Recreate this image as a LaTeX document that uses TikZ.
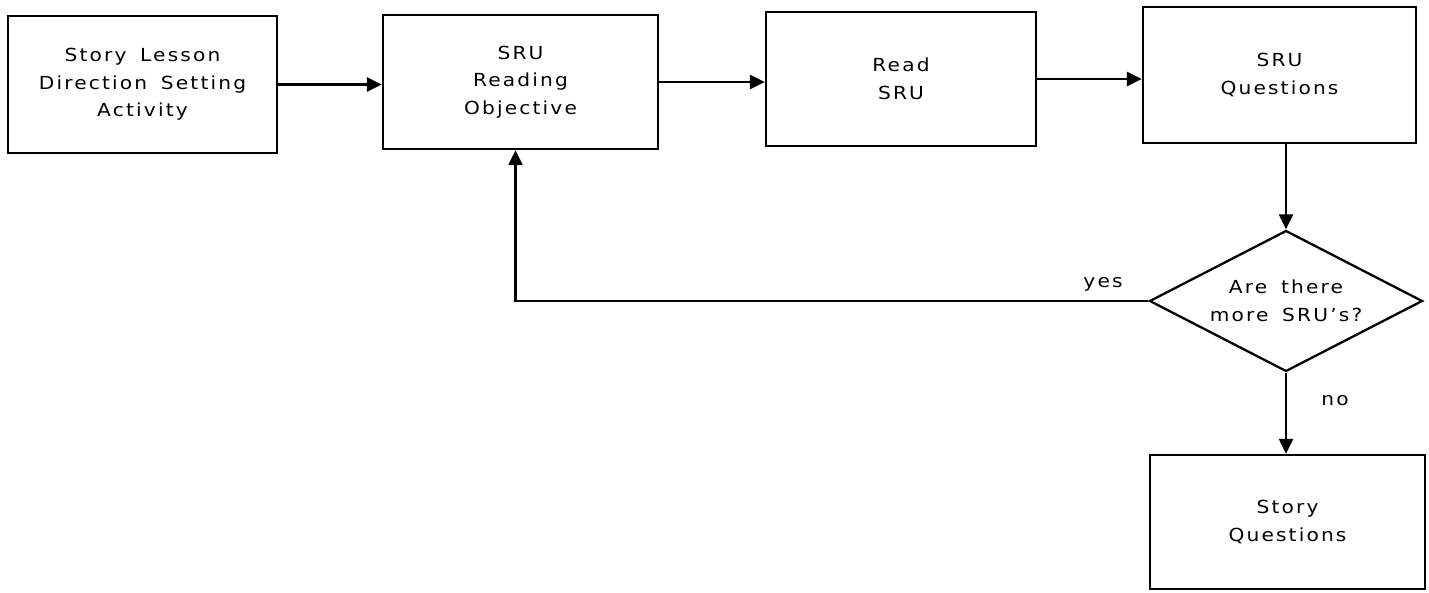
\documentclass[tikz,border=0pt]{standalone}
\usepackage{fontspec}
\setmainfont{DejaVu Sans}[LetterSpace=12,WordSpace=1.6,FakeStretch=1.12]
\usetikzlibrary{arrows.meta,shapes.geometric}
\begin{document}
\begin{tikzpicture}[x=1pt,y=-1pt,
  every node/.style={font=\fontsize{18}{27.5}\selectfont},
  stepbox/.style={draw,line width=2.3pt,rectangle,align=center,inner sep=0pt,
    minimum width=272pt,minimum height=135pt},
  decision/.style={draw,line width=2.3pt,diamond,aspect=2,align=center,inner sep=0pt,
    minimum width=273pt,minimum height=141pt},
  flow/.style={line width=2.3pt,-{Triangle[length=15pt,width=14pt]}},
  lbl/.style={inner sep=0pt}]
\useasboundingbox (0,0) rectangle (1429,592);

\node[stepbox,minimum width=269pt,minimum height=137pt] (a) at (142.5,84.5)
  {Story Lesson\\Direction Setting\\Activity};
\node[stepbox,minimum width=275pt,minimum height=134pt] (b) at (520.5,82)
  {SRU\\Reading\\Objective};
\node[stepbox,minimum width=270pt,minimum height=134pt] (c) at (901,79)
  {Read\\SRU};
\node[stepbox,minimum width=273pt,minimum height=136pt] (d) at (1279.5,75)
  {SRU\\Questions};
\node[decision] (e) at (1286,301) {Are there\\more SRU’s?};
\node[stepbox,minimum width=275pt,minimum height=134pt] (f) at (1287.5,522)
  {Story\\Questions};

% main sequence
\draw[flow] (a.east) -- (a.east -| b.west);
\draw[flow] (b.east) -- (b.east -| c.west);
\draw[flow] (c.east) -- (c.east -| d.west);
\draw[flow] (e.north |- d.south) -- (e.north);

% decision branches
\coordinate (loop) at ([xshift=-5pt]b.south);
\draw[flow] (e.west) -- (loop |- e.west) -- (loop);
\draw[flow] (e.south) -- (e.south |- f.north);

\node[lbl] (yes) at (1103,284) {yes};
\node[lbl] (no) at (1335,401) {no};
\end{tikzpicture}
\end{document}
